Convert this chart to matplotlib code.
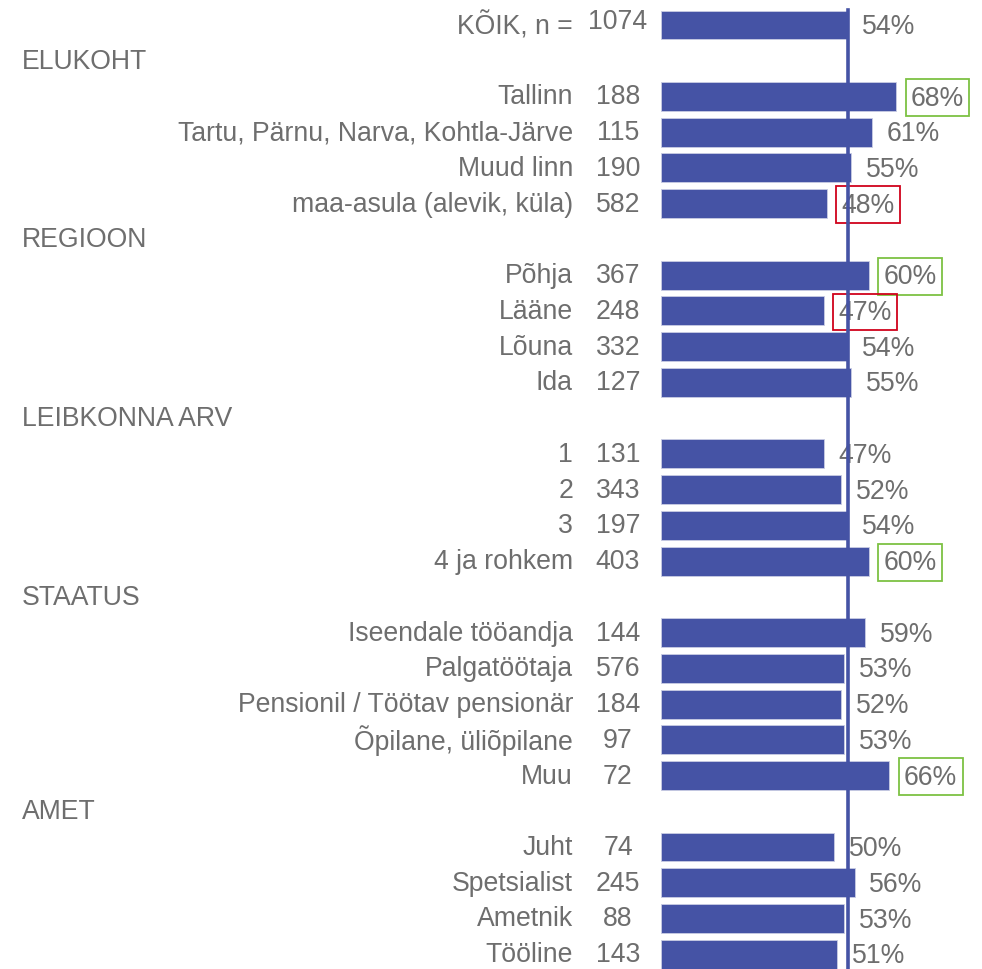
import matplotlib.pyplot as plt
import matplotlib.transforms as mtransforms

plt.rcParams['font.family'] = ['Liberation Sans', 'DejaVu Sans']

# rows: (label, n, percent); None n marks a group header
labels = ['KÕIK, n =', 'ELUKOHT', 'Tallinn', 'Tartu, Pärnu, Narva, Kohtla-Järve', 'Muud linn',
          'maa-asula (alevik, küla)', 'REGIOON', 'Põhja', 'Lääne', 'Lõuna', 'Ida',
          'LEIBKONNA ARV', '1', '2', '3', '4 ja rohkem', 'STAATUS', 'Iseendale tööandja',
          'Palgatöötaja', 'Pensionil / Töötav pensionär', 'Õpilane, üliõpilane', 'Muu',
          'AMET', 'Juht', 'Spetsialist', 'Ametnik', 'Tööline']
counts = [1074, None, 188, 115, 190, 582, None, 367, 248, 332, 127, None, 131, 343, 197, 403,
          None, 144, 576, 184, 97, 72, None, 74, 245, 88, 143]
values = [54, None, 68, 61, 55, 48, None, 60, 47, 54, 55, None, 47, 52, 54, 60,
          None, 59, 53, 52, 53, 66, None, 50, 56, 53, 51]
# highlight: 'g' = significantly higher, 'r' = significantly lower
marks = ['', '', 'g', '', '', 'r', '', 'g', 'r', '', '', '', '', '', '', 'g',
         '', '', '', '', '', 'g', '', '', '', '', '']
average = 54

bar_color = '#4553A5'
text_color = '#6E6E6E'
box_colors = {'g': '#7DC243', 'r': '#D0021B'}

W, H = 982, 970
fig = plt.figure(figsize=(W / 100, H / 100), dpi=100)
n_rows = len(labels)
row_h = 35.74
top = 26 - row_h / 2
ax_h = row_h * n_rows
x0 = 661
px_per_pct = 3.46
ax_w = 80 * px_per_pct
ax = fig.add_axes([x0 / W, (H - top - ax_h) / H, ax_w / W, ax_h / H])
ax.set_xlim(0, 80)
ax.set_ylim(n_rows - 0.5, -0.5)
ax.axis('off')

fs = 19.2
# x in figure fraction, y in data rows
to_fig = mtransforms.blended_transform_factory(fig.transFigure, ax.transData)

for i, (lab, n, v, m) in enumerate(zip(labels, counts, values, marks)):
    if n is None:
        ax.text(22 / W, i, lab, transform=to_fig, ha='left', va='center',
                fontsize=fs, color=text_color)
        continue
    ax.text(573 / W, i, lab, transform=to_fig, ha='right', va='center',
            fontsize=fs, color=text_color)
    ax.text(618 / W, i - (0.1 if i == 0 else 0), str(n), transform=to_fig,
            ha='center', va='center', fontsize=fs, color=text_color)
    ax.barh(i, v, height=0.81, color=bar_color, edgecolor='#C9CCE4', linewidth=0.6)
    bbox = None
    if m:
        bbox = dict(boxstyle='square,pad=0.2', facecolor='none',
                    edgecolor=box_colors[m], linewidth=1.3)
    ax.annotate(f'{v}%', (v, i + 0.03), xytext=(10.5, 0), textcoords='offset points',
                ha='left', va='center', fontsize=fs, color=text_color, bbox=bbox)

ax.plot([average, average], [-0.41, n_rows], color=bar_color, linewidth=2.6,
        clip_on=False, zorder=3)

fig.savefig('out.png', dpi=100)
